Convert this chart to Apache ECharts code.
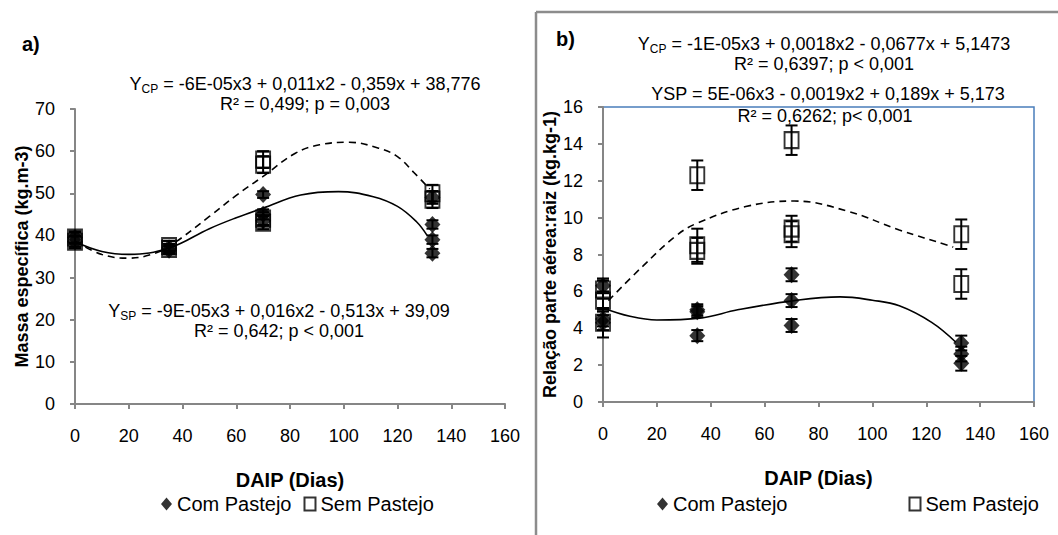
<!DOCTYPE html>
<html>
<head>
<meta charset="utf-8">
<style>
  html, body { margin: 0; padding: 0; background: #fff; }
  #chart { width: 1058px; height: 535px; }
</style>
<script src="https://cdn.jsdelivr.net/npm/echarts@6/dist/echarts.min.js"></script>
</head>
<body>
<div id="chart"></div>
<script>
// --- data: [dias, valor, erro] ---
var xTicks = [0, 20, 40, 60, 80, 100, 120, 140, 160];

// a) Massa específica
var massaCom = [[0, 38.5, 1.2], [0, 39.5, 1.2], [35, 37, 1], [35, 36.5, 1], [70, 49.7, 0.8], [70, 45, 1.2], [70, 43.5, 1.2],
                [133, 49, 1.5], [133, 42.6, 1], [133, 39, 1], [133, 35.8, 1]];
var massaSem = [[0, 39.5, 1.5], [0, 38.5, 1.5], [35, 37.5, 1.2], [35, 36.8, 1.2], [70, 58, 2], [70, 56.8, 2], [70, 44, 1.5],
                [70, 43, 1.5], [133, 50, 2], [133, 48.5, 2]];
// linhas de tendência
var massaTendTrac = [[0, 38.6], [10, 35.5], [20, 34.6], [28, 35.4], [35, 37.4], [50, 44.5], [60, 49.5], [70, 54], [82, 59.5],
                     [91, 61.5], [102, 62.1], [113, 60.7], [120, 58.7], [126, 55], [132, 51]];
var massaTendCont = [[0, 38.5], [10, 36.2], [20, 35.5], [35, 37], [50, 41.6], [60, 44.2], [70, 46.5], [84, 49.6], [98, 50.4],
                     [111, 49.2], [120, 46.9], [127, 43.3], [131, 40]];

// b) Relação parte aérea:raiz
var relCom = [[0, 6.3, 0.4], [0, 4.5, 0.4], [0, 4.3, 0.4], [35, 5.0, 0.3], [35, 4.9, 0.3], [35, 3.6, 0.3], [70, 6.9, 0.35],
              [70, 5.5, 0.35], [70, 4.15, 0.35], [133, 3.2, 0.4], [133, 2.6, 0.4], [133, 2.1, 0.4]];
var relSem = [[0, 6.1, 0.5], [0, 5.5, 0.5], [0, 4.3, 0.8], [35, 12.3, 0.8], [35, 8.5, 0.9], [35, 8.2, 0.7], [70, 14.2, 0.8],
              [70, 9.4, 0.7], [70, 9.1, 0.7], [133, 9.1, 0.8], [133, 6.4, 0.8]];
var relTendTrac = [[2, 5.5], [15, 7.4], [27, 9.0], [35, 9.7], [53, 10.6], [71, 10.9], [91, 10.34], [110, 9.33], [128, 8.5],
                   [130, 8.4]];
var relTendCont = [[0, 5.1], [10, 4.65], [20, 4.45], [36, 4.55], [50, 5.0], [71, 5.5], [88, 5.7], [100, 5.52], [110, 5.22],
                   [122, 4.32], [131, 3.24]];

var FONT = '"Liberation Sans", Arial, sans-serif';
var axisGray = '#868686';

var chart = echarts.init(document.getElementById('chart'), null, { renderer: 'svg' });

function errBars(data, gi) {
  return {
    type: 'custom',
    xAxisIndex: gi, yAxisIndex: gi,
    data: data,
    z: 4,
    silent: true,
    renderItem: function(params, api) {
      var x = api.value(0), y = api.value(1), e = api.value(2);
      var t = api.coord([x, y + e]);
      var b = api.coord([x, y - e]);
      var w = 6;
      var st = { stroke: '#000', lineWidth: 2 };
      return {
        type: 'group',
        children: [
          { type: 'line', shape: { x1: t[0], y1: t[1], x2: b[0], y2: b[1] }, style: st },
          { type: 'line', shape: { x1: t[0] - w, y1: t[1], x2: t[0] + w, y2: t[1] }, style: st },
          { type: 'line', shape: { x1: b[0] - w, y1: b[1], x2: b[0] + w, y2: b[1] }, style: st }
        ]
      };
    }
  };
}

function xAx(gi) {
  return {
    type: 'value', gridIndex: gi, min: 0, max: 160, interval: 20,
    name: 'DAIP (Dias)', nameLocation: 'middle', nameGap: 66,
    nameTextStyle: { fontFamily: FONT, fontSize: 20, fontWeight: 'bold', color: '#000' },
    axisLine: { lineStyle: { color: axisGray, width: 2 } },
    axisTick: { show: true, length: 5, lineStyle: { color: axisGray, width: 2 } },
    axisLabel: { fontFamily: FONT, fontSize: 18, color: '#000', margin: 23,
                 customValues: xTicks },
    splitLine: { show: false }
  };
}

function yAx(gi, max, interval, name, gap) {
  return {
    type: 'value', gridIndex: gi, min: 0, max: max, interval: interval,
    name: name, nameLocation: 'middle', nameGap: gap,
    nameTextStyle: { fontFamily: FONT, fontSize: 18, fontWeight: 'bold', color: '#000' },
    axisLine: { show: true, lineStyle: { color: axisGray, width: 2 } },
    axisTick: { show: true, length: 5, lineStyle: { color: axisGray, width: 2 } },
    axisLabel: { fontFamily: FONT, fontSize: 18, color: '#000', margin: 20 },
    splitLine: { show: false }
  };
}

function pts(name, data, gi, sym) {
  var s = {
    name: name, type: 'scatter', xAxisIndex: gi, yAxisIndex: gi,
    data: data.map(function(d) { return [d[0], d[1]]; }),
    z: 3
  };
  if (sym === 'diamond') {
    s.symbol = 'diamond';
    s.symbolSize = [16, 17];
    s.itemStyle = { color: '#000' };
  } else {
    s.symbol = 'rect';
    s.symbolSize = [14, 16];
    s.itemStyle = { color: 'rgba(255,255,255,0)', borderColor: '#000', borderWidth: 2 };
  }
  return s;
}

function tend(data, gi, dashed) {
  return {
    type: 'line', xAxisIndex: gi, yAxisIndex: gi, data: data,
    smooth: 0.4, symbol: 'none', silent: true, z: 2,
    lineStyle: { color: '#000', width: 1.6, type: dashed ? [7, 5] : 'solid' }
  };
}

var eqStyle = {
  a: { fontFamily: FONT, fontSize: 18, color: '#000', lineHeight: 22 },
  s: { fontFamily: FONT, fontSize: 12, color: '#000', lineHeight: 12, verticalAlign: 'bottom' }
};

function eq(x, y, text) {
  return {
    type: 'text', x: x, y: y, silent: true,
    style: { text: text, rich: eqStyle, align: 'center', verticalAlign: 'middle',
             font: '18px ' + FONT, fill: '#000' }
  };
}

chart.setOption({
  animation: false,
  grid: [
    { left: 75, top: 109, width: 430, height: 295 },
    { left: 603, top: 107, width: 431, height: 295, show: true, borderColor: '#4a7ebb', borderWidth: 1.5 }
  ],
  xAxis: [xAx(0), xAx(1)],
  yAxis: [
    yAx(0, 70, 10, 'Massa específica (kg.m-3)', 43),
    yAx(1, 16, 2, 'Relação parte aérea:raiz (kg.kg-1)', 31)
  ],
  legend: [
    { data: ['Com Pastejo', 'Sem Pastejo'], left: 156, top: 489, itemWidth: 11, itemHeight: 13, itemGap: 12,
      textStyle: { fontFamily: FONT, fontSize: 20, color: '#000' }, selectedMode: false },
    { data: ['Com Pastejo', 'Sem Pastejo'], left: 652, top: 489, itemWidth: 11, itemHeight: 13, itemGap: 121,
      textStyle: { fontFamily: FONT, fontSize: 20, color: '#000' }, selectedMode: false }
  ],
  graphic: [
    { type: 'line', shape: { x1: 536, y1: 12, x2: 1058, y2: 12 }, style: { stroke: '#8c8c8c', lineWidth: 2.5 }, silent: true },
    { type: 'line', shape: { x1: 536, y1: 12, x2: 536, y2: 535 }, style: { stroke: '#8c8c8c', lineWidth: 2.5 }, silent: true },
    { type: 'text', x: 22, y: 34, silent: true, style: { text: 'a)', font: 'bold 20px ' + FONT, fill: '#000' } },
    { type: 'text', x: 556, y: 29, silent: true, style: { text: 'b)', font: 'bold 20px ' + FONT, fill: '#000' } },
    eq(305, 84, '{a|Y}{s|CP}{a| = -6E-05x3 + 0,011x2 - 0,359x + 38,776}'),
    eq(305, 104, '{a|R² = 0,499; p = 0,003}'),
    eq(279, 311, '{a|Y}{s|SP}{a| = -9E-05x3 + 0,016x2 - 0,513x + 39,09}'),
    eq(279, 331, '{a|R² = 0,642; p < 0,001}'),
    eq(824, 44, '{a|Y}{s|CP}{a| = -1E-05x3 + 0,0018x2 - 0,0677x + 5,1473}'),
    eq(824, 64, '{a|R² = 0,6397; p < 0,001}'),
    eq(828, 94, '{a|YSP = 5E-06x3 - 0,0019x2 + 0,189x + 5,173}'),
    eq(825, 116, '{a|R² = 0,6262; p< 0,001}')
  ],
  series: [
    tend(massaTendTrac, 0, true),
    tend(massaTendCont, 0, false),
    pts('Com Pastejo', massaCom, 0, 'diamond'),
    pts('Sem Pastejo', massaSem, 0, 'rect'),
    errBars(massaCom, 0),
    errBars(massaSem, 0),
    tend(relTendTrac, 1, true),
    tend(relTendCont, 1, false),
    pts('Com Pastejo', relCom, 1, 'diamond'),
    pts('Sem Pastejo', relSem, 1, 'rect'),
    errBars(relCom, 1),
    errBars(relSem, 1)
  ]
});
window.addEventListener('resize', function() { chart.resize(); });
</script>
</body>
</html>
